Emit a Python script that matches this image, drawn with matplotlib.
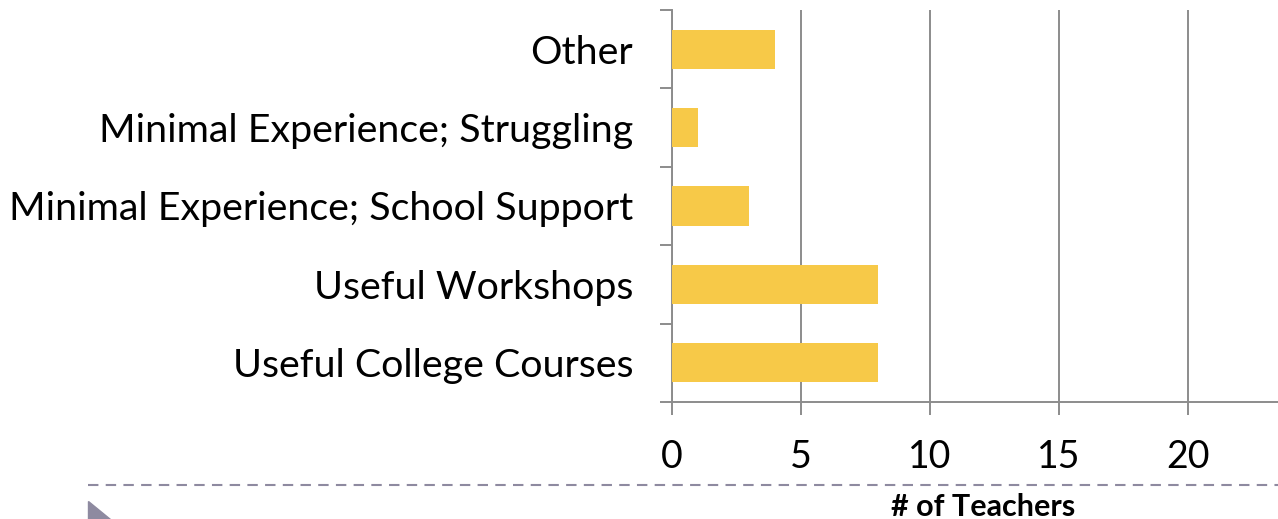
import matplotlib
matplotlib.use("Agg")
import matplotlib.pyplot as plt
from matplotlib.lines import Line2D
from matplotlib.patches import Polygon

categories = ["Useful College Courses", "Useful Workshops",
              "Minimal Experience; School Support",
              "Minimal Experience; Struggling", "Other"]
teachers = [8, 8, 3, 1, 4]
x_ticks = [0, 5, 10, 15, 20]

W, H = 1278, 519
fig = plt.figure(figsize=(W / 100, H / 100), dpi=100)
plt.rcParams['font.family'] = ['Lato', 'DejaVu Sans']

ax = fig.add_axes([672 / W, 1 - 402 / H, (W - 672) / W, (402 - 10) / H])
ax.barh(range(len(categories)), teachers, height=0.5, color="#F7C948", zorder=3)

grid_col = "#8c8c8c"
ax.set_xlim(0, 23.5)
ax.set_ylim(-0.5, len(categories) - 0.5)
ax.set_xticks(x_ticks)
ax.set_xticklabels([str(t) for t in x_ticks], fontsize=27)
ax.set_yticks([i - 0.5 for i in range(len(categories) + 1)], minor=False)
ax.set_yticklabels([])
ax.set_yticks(range(len(categories)), minor=True)
ax.set_yticklabels(categories, minor=True, fontsize=28.4)
ax.tick_params(axis="y", which="minor", length=0, pad=28)
ax.tick_params(axis="y", which="major", length=9, width=1.4, color=grid_col)
ax.tick_params(axis="x", length=9, width=1.4, color=grid_col, pad=18)
ax.xaxis.grid(True, color=grid_col, linewidth=1.4, zorder=0)
for side in ["top", "right"]:
    ax.spines[side].set_visible(False)
for side in ["left", "bottom"]:
    ax.spines[side].set_color(grid_col)
    ax.spines[side].set_linewidth(1.4)
ax.set_xlabel("# of Teachers", fontsize=22, fontweight="bold")
ax.xaxis.set_label_coords((983 - 672) / (W - 672), -(493 - 402) / (402 - 10))

fig.add_artist(Line2D([88 / W, 1.0], [1 - 485 / H] * 2, color="#8E8AA0",
                      linewidth=1.5, dashes=(5, 3.5)))
fig.add_artist(Polygon([[88 / W, 1 - 501 / H], [88 / W, 0], [110 / W, 0]],
                       closed=True, color="#8E8AA0"))

fig.savefig("out.png", dpi=100)
